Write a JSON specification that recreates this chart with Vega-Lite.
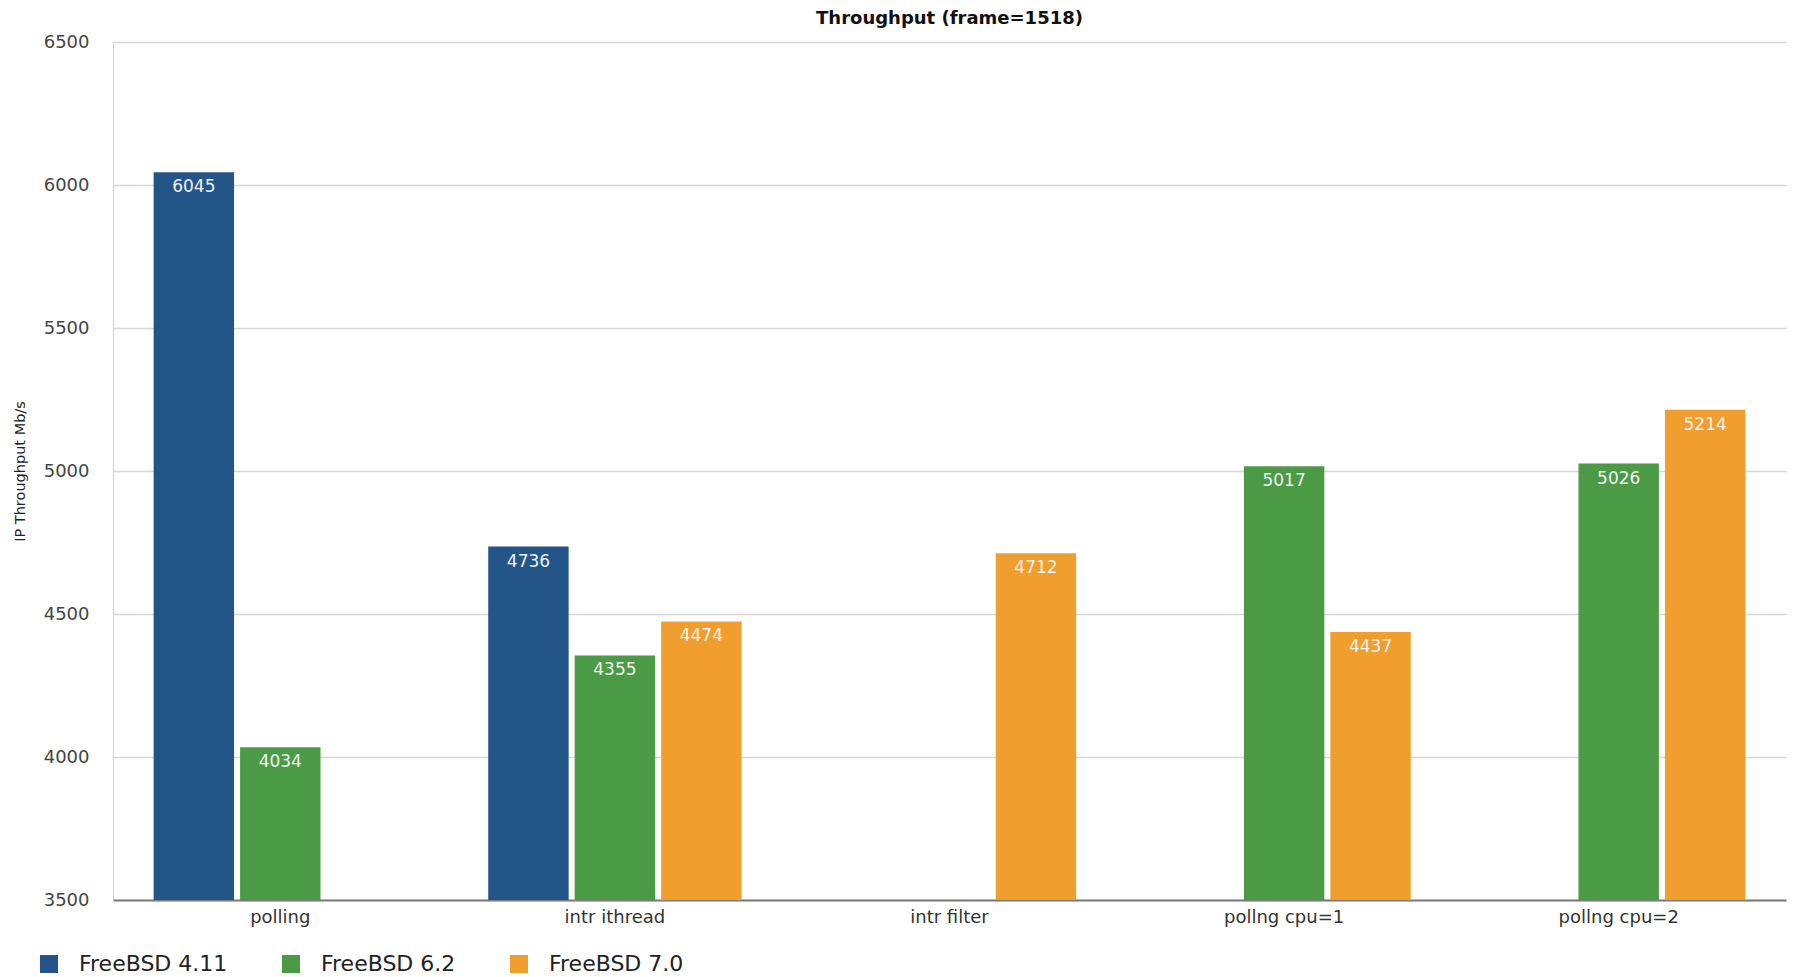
{
  "$schema": "https://vega.github.io/schema/vega-lite/v6.json",
  "autosize": {"type": "none"},
  "padding": {"left": 113, "top": 42, "right": 7, "bottom": 77},
  "width": 1673,
  "height": 858,
  "background": "white",
  "title": {
    "text": "Throughput (frame=1518)",
    "font": "DejaVu Sans",
    "fontSize": 18,
    "fontWeight": "bold",
    "color": "#111111",
    "anchor": "middle",
    "offset": 5
  },
  "data": {
    "values": [
      {"mode": "polling", "os": "FreeBSD 4.11", "value": 6045},
      {"mode": "polling", "os": "FreeBSD 6.2", "value": 4034},
      {"mode": "intr ithread", "os": "FreeBSD 4.11", "value": 4736},
      {"mode": "intr ithread", "os": "FreeBSD 6.2", "value": 4355},
      {"mode": "intr ithread", "os": "FreeBSD 7.0", "value": 4474},
      {"mode": "intr filter", "os": "FreeBSD 7.0", "value": 4712},
      {"mode": "pollng cpu=1", "os": "FreeBSD 6.2", "value": 5017},
      {"mode": "pollng cpu=1", "os": "FreeBSD 7.0", "value": 4437},
      {"mode": "pollng cpu=2", "os": "FreeBSD 6.2", "value": 5026},
      {"mode": "pollng cpu=2", "os": "FreeBSD 7.0", "value": 5214}
    ]
  },
  "encoding": {
    "x": {
      "field": "mode",
      "type": "nominal",
      "sort": ["polling", "intr ithread", "intr filter", "pollng cpu=1", "pollng cpu=2"],
      "scale": {"paddingInner": 0, "paddingOuter": 0},
      "axis": {
        "title": null,
        "labelAngle": 0,
        "ticks": false,
        "grid": false,
        "domainColor": "#7a7a7a",
        "domainWidth": 2,
        "labelFont": "DejaVu Sans",
        "labelFontSize": 18,
        "labelColor": "#333333",
        "labelPadding": 8
      }
    },
    "xOffset": {
      "field": "os",
      "type": "nominal",
      "scale": {"domain": ["FreeBSD 4.11", "FreeBSD 6.2", "FreeBSD 7.0"], "paddingInner": 0.07, "paddingOuter": 0.47}
    },
    "y": {
      "field": "value",
      "type": "quantitative",
      "scale": {"domain": [3500, 6500], "nice": false, "zero": false},
      "axis": {
        "title": "IP Throughput Mb/s",
        "values": [3500, 4000, 4500, 5000, 5500, 6000, 6500],
        "format": "d",
        "ticks": false,
        "grid": true,
        "gridColor": "#d6d6d6",
        "gridWidth": 1.5,
        "domainColor": "#d0d0d0",
        "labelFont": "DejaVu Sans",
        "labelFontSize": 18,
        "labelColor": "#444444",
        "labelPadding": 24,
        "titleFont": "DejaVu Sans",
        "titleFontSize": 14.5,
        "titleFontWeight": "normal",
        "titleColor": "#222222",
        "titlePadding": 16
      }
    }
  },
  "layer": [
    {
      "mark": {"type": "bar", "clip": true},
      "encoding": {
        "color": {
          "field": "os",
          "type": "nominal",
          "scale": {"domain": ["FreeBSD 4.11", "FreeBSD 6.2", "FreeBSD 7.0"], "range": ["#245589", "#4b9a46", "#f09f2f"]},
          "legend": {
            "title": null,
            "orient": "none",
            "direction": "horizontal",
            "legendX": -75,
            "legendY": 911,
            "padding": 0,
            "symbolType": "square",
            "symbolSize": 324,
            "symbolStrokeWidth": 0,
            "symbolOpacity": 1,
            "labelFont": "DejaVu Sans",
            "labelFontSize": 22,
            "labelColor": "#222222",
            "labelOffset": 19,
            "columnPadding": 52
          }
        }
      }
    },
    {
      "mark": {
        "type": "text",
        "baseline": "top",
        "dy": 7,
        "font": "DejaVu Sans",
        "fontSize": 17,
        "color": "#f2f2f2"
      },
      "encoding": {
        "text": {"field": "value", "type": "quantitative", "format": "d"}
      }
    }
  ],
  "config": {
    "view": {"stroke": null}
  }
}
